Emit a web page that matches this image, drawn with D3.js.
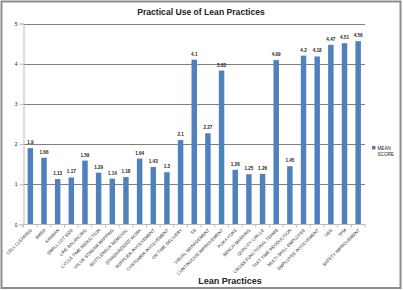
<!DOCTYPE html>
<html><head><meta charset="utf-8">
<script src="https://cdn.jsdelivr.net/npm/d3@7"></script>
<style>body{margin:0;background:#fff}svg{display:block;font-family:Arial,"Liberation Sans",sans-serif}</style>
</head><body><svg id="c" width="403" height="290"></svg>
<script>
const categories = ["CELL CLEANING","SMED","KANBAN","SMALL LOT SIZE","LINE BALANCING","CYCLE TIME REDUCTION","VALUE STREAM MAPPING","BOTTLENECK REMOVAL","STANDARDIZED WORK","SUPPLIER INVOLVEMENT","CUSTOMER INVOLVEMENT","ON TIME DELIVERY","5S","VISUAL MANAGEMENT","CONTINUOUS IMPROVEMENT","POKA YOKE","BENCH MARKING","QUALITY CIRCLE","CROSS FUNCTIONAL TEAMS","TAKT TIME PRODUCTION","MULTI SKILL EMPLOYEE","EMPLOYEE INVOLVEMENT","OEE","TPM","SAFETY IMPROVEMENT"];
const values = [1.9,1.66,1.13,1.17,1.59,1.29,1.14,1.18,1.64,1.43,1.3,2.1,4.1,2.27,3.83,1.36,1.25,1.26,4.09,1.45,4.2,4.18,4.47,4.51,4.56];
const yTicks = [0,1,2,3,4,5];
const seriesName = ["MEAN","SCORE"];

const svg = d3.select("#c");
svg.append("rect").attr("x",1.5).attr("y",1.5).attr("width",399).attr("height",286.5)
  .attr("fill","#fff").attr("stroke","#8c8c8c").attr("stroke-width",2);

const x = d3.scaleBand().domain(categories).range([23.5,365]).paddingInner(0.6).paddingOuter(0.3);
const y = d3.scaleLinear().domain([0,5]).range([224.5,23.5]);

// gridlines
svg.append("g").selectAll("line").data(yTicks.filter(d=>d>0)).join("line")
  .attr("x1",23.5).attr("x2",365).attr("y1",d=>Math.round(y(d))+0.5).attr("y2",d=>Math.round(y(d))+0.5)
  .attr("stroke","#808080").attr("stroke-width",1);

// y axis
const ya = svg.append("g").attr("transform","translate(23.5,0)")
  .call(d3.axisLeft(y).tickValues(yTicks).tickSize(4).tickFormat(d3.format("d")));
ya.select(".domain").attr("stroke","#bbb");
ya.selectAll(".tick line").attr("stroke","#bbb");
ya.selectAll("text").attr("font-size",5).attr("fill","#222").attr("x",-6);

// bars
svg.append("g").selectAll("rect").data(values).join("rect")
  .attr("x",(d,i)=>x(categories[i])).attr("width",x.bandwidth())
  .attr("y",d=>y(d)).attr("height",d=>y(0)-y(d)).attr("fill","#4F81BD");

// value labels
svg.append("g").selectAll("text").data(values).join("text")
  .attr("x",(d,i)=>x(categories[i])+x.bandwidth()/2).attr("y",d=>y(d)-4)
  .attr("text-anchor","middle").attr("font-size",4.6).attr("font-weight","bold").attr("fill","#222")
  .text(d=>d);

// x axis
const step = x.step();
const xa = svg.append("g").attr("transform","translate(0,224.5)");
xa.append("line").attr("x1",23.5).attr("x2",365).attr("stroke","#bbb");
xa.selectAll("line.t").data(d3.range(categories.length+1)).join("line").attr("class","t")
  .attr("x1",i=>23.5+i*(341.5/categories.length)).attr("x2",i=>23.5+i*(341.5/categories.length))
  .attr("y1",0).attr("y2",3).attr("stroke","#bbb");
xa.selectAll("text").data(categories).join("text")
  .attr("transform",d=>`translate(${x(d)+x.bandwidth()/2+2},6) rotate(-45)`)
  .attr("text-anchor","end").attr("font-size",4.4).attr("fill","#222").text(d=>d);

// titles
svg.append("text").attr("x",201).attr("y",15).attr("text-anchor","middle")
  .attr("font-size",8.6).attr("font-weight","bold").attr("fill","#222").text("Practical Use of Lean Practices");
svg.append("text").attr("x",230).attr("y",284).attr("text-anchor","middle")
  .attr("font-size",9).attr("font-weight","bold").attr("fill","#222").text("Lean Practices");

// legend
svg.append("rect").attr("x",372).attr("y",146).attr("width",3.5).attr("height",3.5).attr("fill","#4F81BD");
svg.append("text").attr("x",377.5).attr("y",150).attr("font-size",4.6).attr("fill","#222")
  .selectAll("tspan").data(seriesName).join("tspan").attr("x",377.5).attr("dy",(d,i)=>i?5.5:0).text(d=>d);
</script></body></html>
